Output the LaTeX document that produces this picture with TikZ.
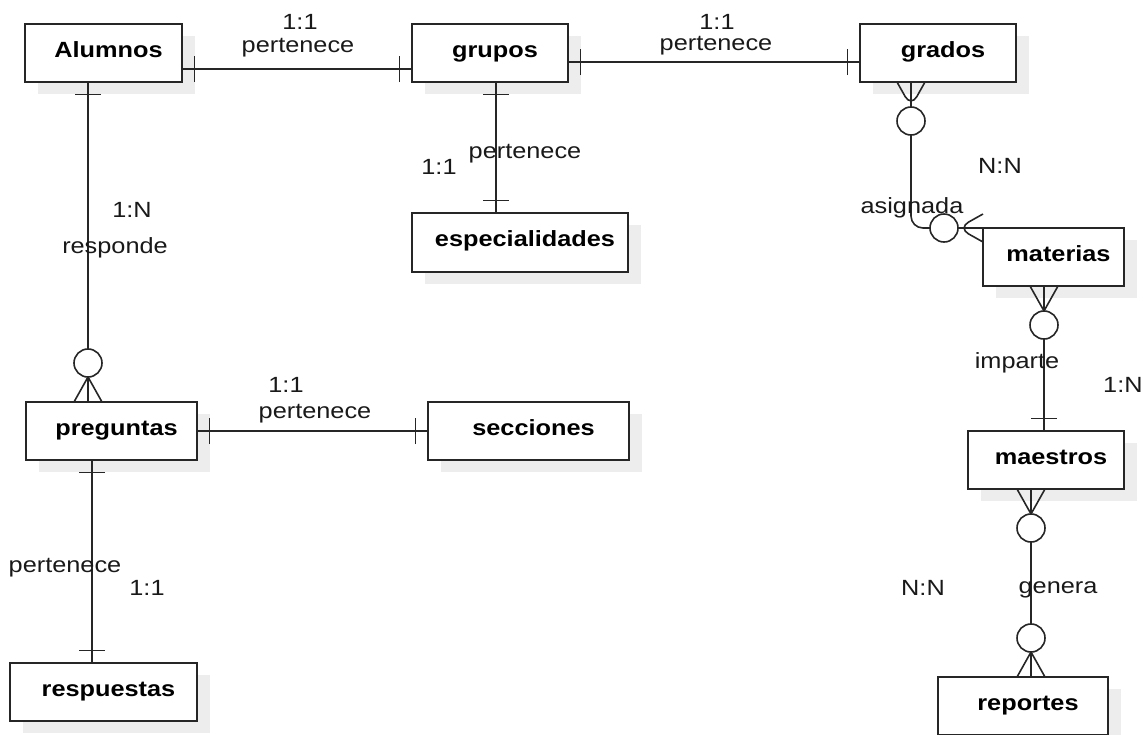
\documentclass[tikz,border=0pt]{standalone}
\usepackage{fontspec}
\setmainfont{Liberation Sans}[FakeStretch=1.15]
\usetikzlibrary{shadows,decorations.markings,calc}
\begin{document}
\begin{tikzpicture}[x=1pt,y=-1pt,
  ent/.style={draw=black!85, line width=1.6pt, fill=white, inner sep=0pt, outer sep=0pt,
    font=\fontsize{22}{26}\selectfont\bfseries, text height=17pt, text depth=9pt,
    minimum height=58pt,
    drop shadow={shadow xshift=13pt, shadow yshift=-12pt, fill=black!7, opacity=1, draw=none}},
  rel/.style={draw=black!85, line width=1.6pt},
  lbl/.style={font=\fontsize{22}{26}\selectfont, inner sep=0pt, anchor=base, text=black!90},
  onestart/.style={postaction={decorate, decoration={markings,
      mark=at position 12.5pt with {\draw[rel] (0pt,-13pt) -- (0pt,13pt);}}}},
  oneend/.style={postaction={decorate, decoration={markings,
      mark=at position -12.5pt with {\draw[rel] (0pt,-13pt) -- (0pt,13pt);}}}},
  manystart/.style={postaction={decorate, decoration={markings,
      mark=at position 25pt with {\draw[rel] (-25pt,14pt) -- (0pt,0pt) -- (-25pt,-14pt);
        \draw[rel, fill=white] (14pt,0pt) circle (14pt);}}}},
  manyend/.style={postaction={decorate, decoration={markings,
      mark=at position -25pt with {\draw[rel] (25pt,14pt) -- (0pt,0pt) -- (25pt,-14pt);
        \draw[rel, fill=white] (-14pt,0pt) circle (14pt);}}}}
]
\useasboundingbox (0,0) rectangle (1146,734);

% entities
\node[ent, minimum width=157pt] (alumnos) at (103.5,53) {\hspace*{10pt}Alumnos};
\node[ent, minimum width=156pt] (grupos) at (490,53) {\hspace*{10pt}grupos};
\node[ent, minimum width=156pt] (grados) at (938,53) {\hspace*{10pt}grados};
\node[ent, minimum width=216pt, minimum height=59pt] (especialidades) at (520,242.5) {\hspace*{10pt}especialidades};
\node[ent, minimum width=141pt] (materias) at (1053.5,257) {\hspace*{10pt}materias};
\node[ent, minimum width=171pt] (preguntas) at (111.5,431) {\hspace*{10pt}preguntas};
\node[ent, minimum width=201pt] (secciones) at (528.5,431) {\hspace*{10pt}secciones};
\node[ent, minimum width=156pt] (maestros) at (1046,460) {\hspace*{10pt}maestros};
\node[ent, minimum width=187pt] (respuestas) at (103.5,692) {\hspace*{10pt}respuestas};
\node[ent, minimum width=170pt] (reportes) at (1023,706) {\hspace*{10pt}reportes};

% relationships
\draw[rel, onestart, oneend] (alumnos.east |- 0,69) -- (grupos.west |- 0,69);
\draw[rel, onestart, oneend] (grupos.east |- 0,62) -- (grados.west |- 0,62);
\draw[rel, onestart, oneend] (grupos.south -| 496,0) -- (especialidades.north -| 496,0);
\draw[rel, onestart, manyend] (alumnos.south -| 88,0) -- (preguntas.north -| 88,0);
\draw[rel, rounded corners=12pt, manystart, manyend] (grados.south -| 911,0) |- (materias.west |- 0,228);
\draw[rel, manystart, oneend] (materias.south -| 1044,0) -- (maestros.north -| 1044,0);
\draw[rel, manystart, manyend] (maestros.south -| 1031,0) -- (reportes.north -| 1031,0);
\draw[rel, onestart, oneend] (preguntas.east |- 0,431) -- (secciones.west |- 0,431);
\draw[rel, onestart, oneend] (preguntas.south -| 92,0) -- (respuestas.north -| 92,0);

% labels
\node[lbl] (l1a) at (300,29) {1:1};
\node[lbl] (l1b) at (298,52) {pertenece};
\node[lbl] (l2a) at (717,29) {1:1};
\node[lbl] (l2b) at (716,50) {pertenece};
\node[lbl] (l3a) at (525,158) {pertenece};
\node[lbl] (l3b) at (439,174) {1:1};
\node[lbl] (l4a) at (132,217) {1:N};
\node[lbl] (l4b) at (115,253) {responde};
\node[lbl] (l5a) at (286,392) {1:1};
\node[lbl] (l5b) at (315,418) {pertenece};
\node[lbl] (l6a) at (65,572) {pertenece};
\node[lbl] (l6b) at (147,595) {1:1};
\node[lbl] (l7a) at (1000,173) {N:N};
\node[lbl] (l7b) at (912,213) {asignada};
\node[lbl] (l8a) at (1017,368) {imparte};
\node[lbl, anchor=base west] (l8b) at (1103,392) {1:N};
\node[lbl] (l9a) at (923,595) {N:N};
\node[lbl] (l9b) at (1058,593) {genera};
\end{tikzpicture}
\end{document}
